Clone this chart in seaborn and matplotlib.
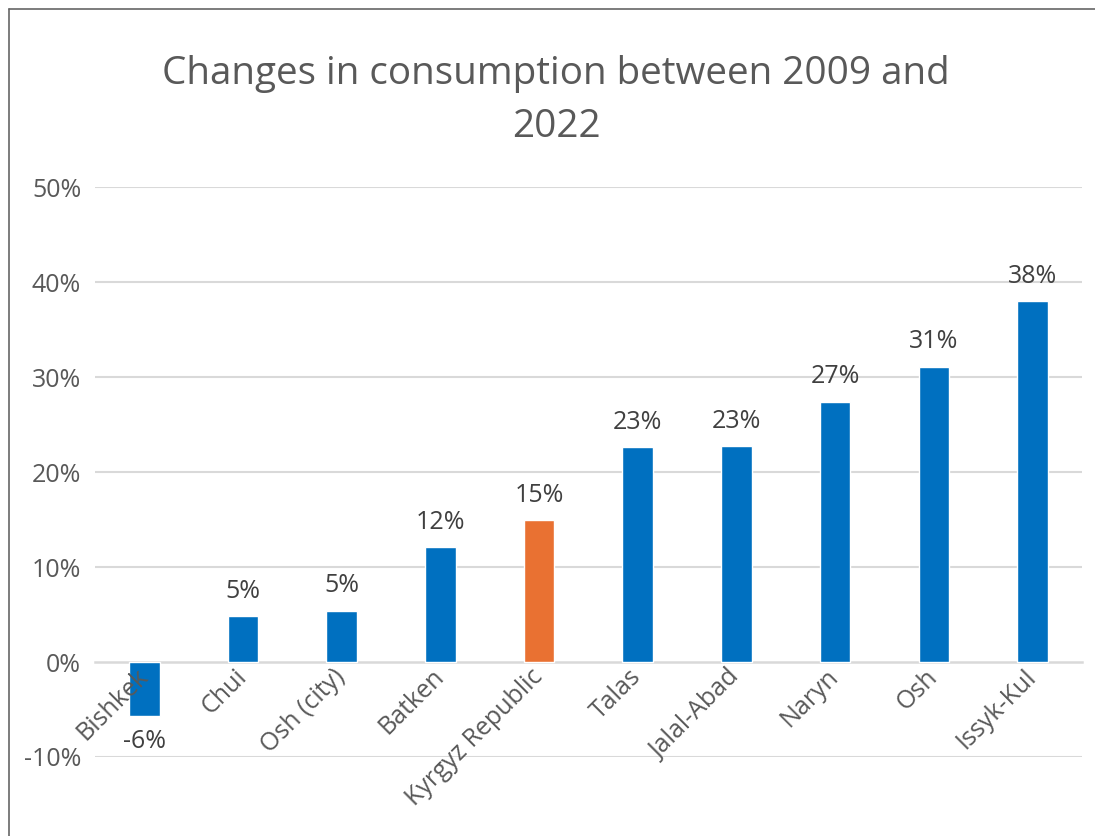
import matplotlib
matplotlib.use("Agg")
import matplotlib.pyplot as plt
from matplotlib.lines import Line2D
import pandas as pd
import seaborn as sns

regions = ["Bishkek", "Chui", "Osh (city)", "Batken", "Kyrgyz Republic",
           "Talas", "Jalal-Abad", "Naryn", "Osh", "Issyk-Kul"]
change_pct = [-5.7, 4.8, 5.4, 12.1, 14.9, 22.6, 22.7, 27.4, 31.1, 38.0]
bar_colours = ["#0070C0", "#0070C0", "#0070C0", "#0070C0", "#E97132",
               "#0070C0", "#0070C0", "#0070C0", "#0070C0", "#0070C0"]
y_ticks = [-10, 0, 10, 20, 30, 40, 50]

TEXT = "#595959"
GRID = "#D9D9D9"

sns.set_theme(style="white")
plt.rcParams["font.family"] = ["Open Sans", "DejaVu Sans"]

df = pd.DataFrame({"region": regions, "change": change_pct})

fig = plt.figure(figsize=(10.95, 8.36), dpi=100)
ax = fig.add_axes([0.0868, 0.0945, 0.9012, 0.6818])

sns.barplot(data=df, x="region", y="change", hue="region",
            palette=dict(zip(regions, bar_colours)), order=regions,
            width=0.31, legend=False, ax=ax, saturation=1)

ax.set_ylim(-10, 50)
ax.set_xlim(-0.5, len(regions) - 0.5)
ax.set_yticks(y_ticks)
ax.set_yticklabels([f"{t}%" for t in y_ticks], fontsize=18, color=TEXT)
for t in y_ticks:
    if t != 0:
        ax.axhline(t, color=GRID, lw=1.5, zorder=0)
ax.set_xlabel("")
ax.set_ylabel("")

for side in ["top", "right", "left"]:
    ax.spines[side].set_visible(False)
ax.spines["bottom"].set_position(("data", 0))
ax.spines["bottom"].set_color(GRID)
ax.spines["bottom"].set_linewidth(1.8)
ax.spines["bottom"].set_zorder(0)
ax.xaxis.set_zorder(5)
ax.tick_params(axis="both", length=0)
ax.tick_params(axis="y", pad=10)
ax.tick_params(axis="x", pad=8)
ax.set_xticks(range(len(regions)))
ax.set_xticklabels(regions, rotation=45, ha="right", va="center",
                   rotation_mode="anchor", fontsize=18, color=TEXT)

for cont in ax.containers:
    ax.bar_label(cont, labels=[f"{v:.0f}%" for v in cont.datavalues],
                 padding=9, fontsize=18, color="#404040")

fig.text(0.508, 0.880, "Changes in consumption between 2009 and\n2022",
         ha="center", va="center", fontsize=27.8, color=TEXT, linespacing=1.52)

# chart border
fig.add_artist(Line2D([9 / 1095, 1], [1 - 9 / 836, 1 - 9 / 836],
                      transform=fig.transFigure, color="#666666", lw=1.2))
fig.add_artist(Line2D([9 / 1095, 9 / 1095], [0, 1 - 9 / 836],
                      transform=fig.transFigure, color="#666666", lw=1.2))

fig.savefig("out.png", dpi=100)
